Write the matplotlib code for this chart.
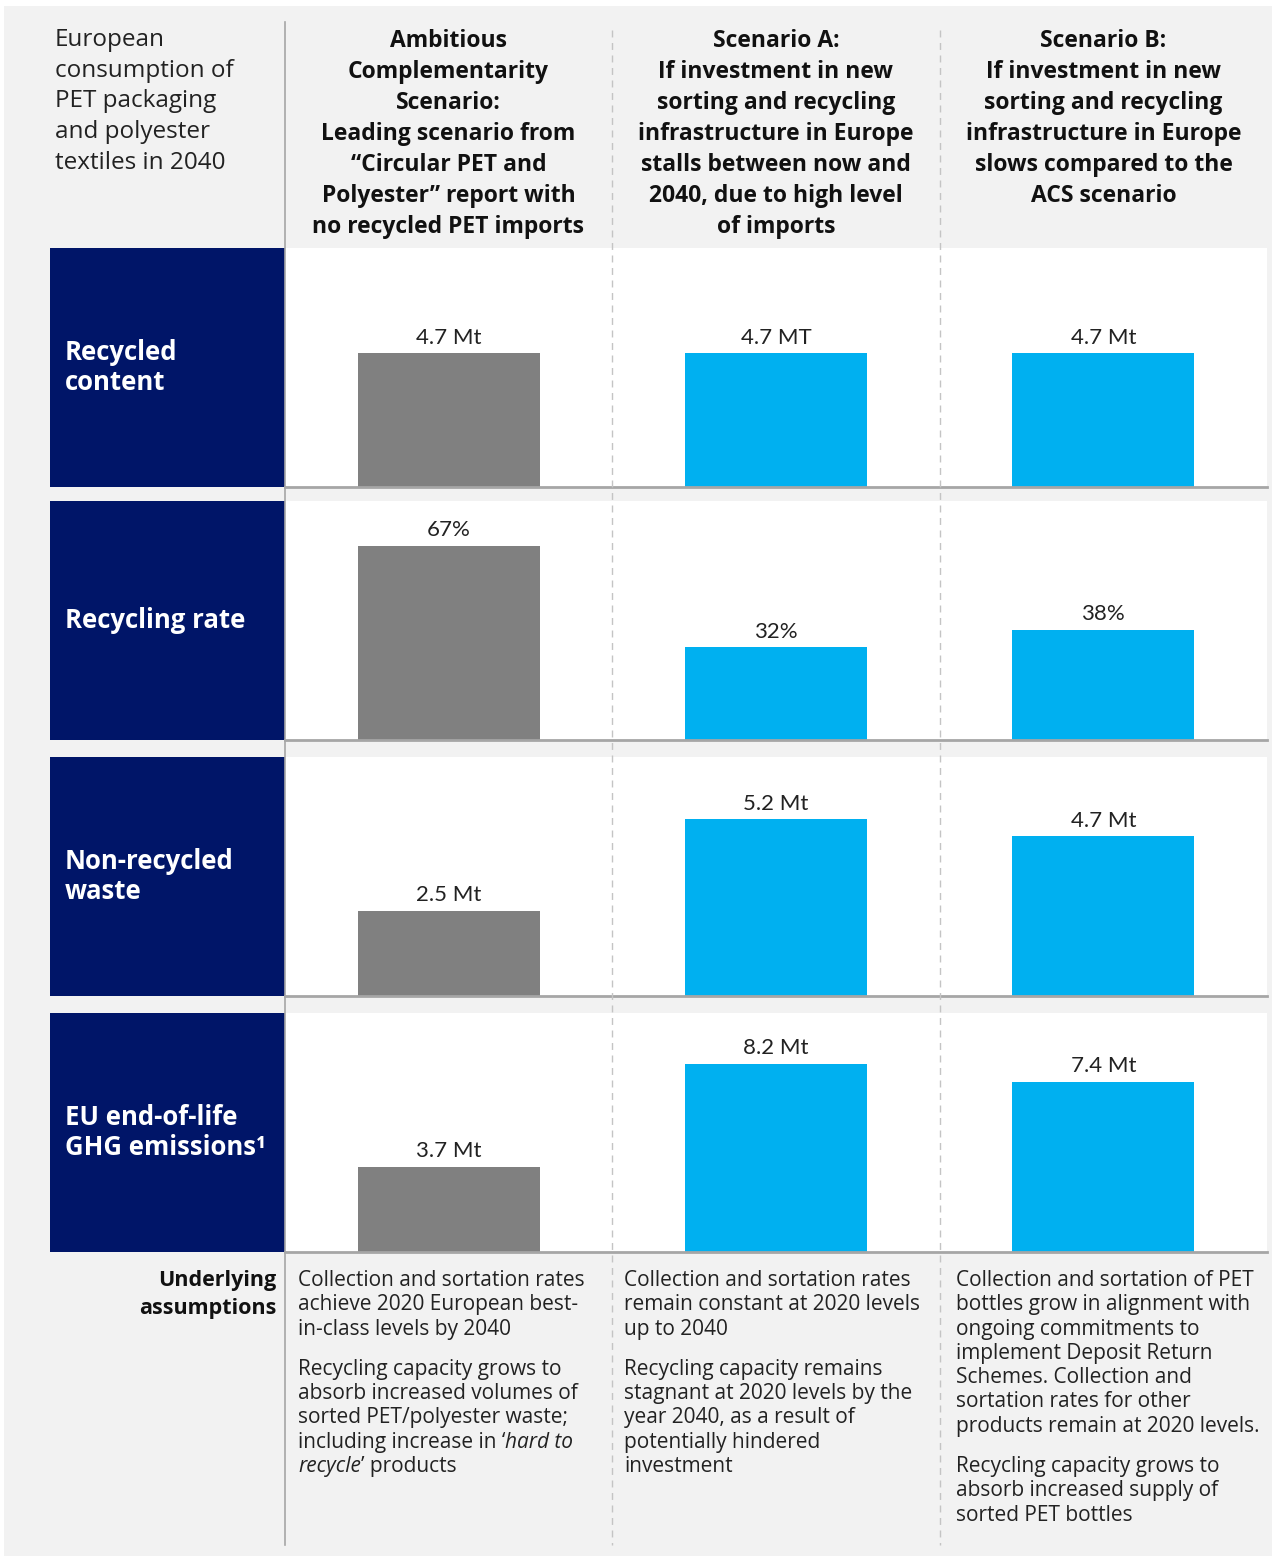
import matplotlib.pyplot as plt
from matplotlib.patches import Rectangle

plt.rcParams['font.family'] = ['Open Sans', 'DejaVu Sans']

# ---- data ----
corner_title = "European\nconsumption of\nPET packaging\nand polyester\ntextiles in 2040"
headers = [
    "Ambitious\nComplementarity\nScenario:\nLeading scenario from\n\u201cCircular PET and\nPolyester\u201d report with\nno recycled PET imports",
    "Scenario A:\nIf investment in new\nsorting and recycling\ninfrastructure in Europe\nstalls between now and\n2040, due to high level\nof imports",
    "Scenario B:\nIf investment in new\nsorting and recycling\ninfrastructure in Europe\nslows compared to the\nACS scenario",
]
row_labels = ["Recycled\ncontent", "Recycling rate", "Non-recycled\nwaste", "EU end-of-life\nGHG emissions\u00b9"]

recycled_content = [4.7, 4.7, 4.7]      # Mt
recycling_rate = [67, 32, 38]           # %
non_recycled_waste = [2.5, 5.2, 4.7]    # Mt
ghg_emissions = [3.7, 8.2, 7.4]         # Mt

row_values = [recycled_content, recycling_rate, non_recycled_waste, ghg_emissions]
value_labels = [
    ["4.7 Mt", "4.7 MT", "4.7 Mt"],
    ["67%", "32%", "38%"],
    ["2.5 Mt", "5.2 Mt", "4.7 Mt"],
    ["3.7 Mt", "8.2 Mt", "7.4 Mt"],
]

# *...* marks italic pieces
assumptions = [
    ["Collection and sortation rates\nachieve 2020 European best-\nin-class levels by 2040",
     "Recycling capacity grows to\nabsorb increased volumes of\nsorted PET/polyester waste;\nincluding increase in \u2018*hard to*\n*recycle*\u2019 products"],
    ["Collection and sortation rates\nremain constant at 2020 levels\nup to 2040",
     "Recycling capacity remains\nstagnant at 2020 levels by the\nyear 2040, as a result of\npotentially hindered\ninvestment"],
    ["Collection and sortation of PET\nbottles grow in alignment with\nongoing commitments to\nimplement Deposit Return\nSchemes. Collection and\nsortation rates for other\nproducts remain at 2020 levels.",
     "Recycling capacity grows to\nabsorb increased supply of\nsorted PET bottles"],
]

# ---- layout (pixels) ----
W, H = 1277, 1559
NAVY = '#001568'
BLUE = '#00B0F0'
GREY_BAR = '#808080'
TXT = '#222222'
row_tops = [248, 501, 757, 1013]
row_h = 239
row_ymax = [8.4, 82.5, 7.03, 10.4]
col_edges = [285, 612, 940, 1267]
col_centers = [(col_edges[i] + col_edges[i + 1]) / 2 for i in range(3)]
bar_colors = [GREY_BAR, BLUE, BLUE]


def box(x0, y0, x1, y1):
    return [x0 / W, 1 - y1 / H, (x1 - x0) / W, (y1 - y0) / H]


fig = plt.figure(figsize=(W / 100, H / 100), dpi=100, facecolor='white')

# background layer
bg = fig.add_axes([0, 0, 1, 1], zorder=0)
bg.set_xlim(0, W)
bg.set_ylim(H, 0)
bg.set_axis_off()
bg.add_patch(Rectangle((4, 6), 1268, 1550, color='#F2F2F2', lw=0))
for top, lab in zip(row_tops, row_labels):
    bg.add_patch(Rectangle((50, top), 235, row_h, color=NAVY, lw=0))
    bg.text(65, top + row_h / 2, lab, color='white', fontsize=18.5, fontweight='bold',
            ha='left', va='center', linespacing=1.18)

# bar rows
for i, (top, vals, labs, ymax) in enumerate(zip(row_tops, row_values, value_labels, row_ymax)):
    ax = fig.add_axes(box(col_edges[0], top, col_edges[-1], top + row_h), zorder=1)
    ax.set_facecolor('white')
    bars = ax.bar(range(3), vals, width=0.556, color=bar_colors)
    ax.bar_label(bars, labels=labs, padding=4, fontsize=16, color=TXT, family='Lato')
    ax.set_xlim(-0.5, 2.5)
    ax.set_ylim(0, ymax)
    for s in ['top', 'left', 'right']:
        ax.spines[s].set_visible(False)
    ax.spines['bottom'].set_color('#A6A6A6')
    ax.spines['bottom'].set_linewidth(2)
    ax.set_xticks([])
    ax.set_yticks([])

# overlay: dividers and text
ov = fig.add_axes([0, 0, 1, 1], zorder=5)
ov.set_xlim(0, W)
ov.set_ylim(H, 0)
ov.set_axis_off()
ov.patch.set_alpha(0)
ov.plot([285, 285], [22, 1545], color='#A6A6A6', lw=1.2)
for x in col_edges[1:3]:
    ov.plot([x, x], [30, 1545], color='#C4C4C4', lw=1, ls=(0, (5, 4)))

ov.text(55, 28, corner_title, fontsize=17.5, color=TXT, ha='left', va='top', linespacing=1.37)
for cx, h in zip(col_centers, headers):
    ov.text(cx, 29, h, fontsize=16.5, fontweight='bold', color='#111111',
            ha='center', va='top', multialignment='center', linespacing=1.39)

ov.text(276, 1270, "Underlying\nassumptions", fontsize=15.5, fontweight='bold', color='#111111',
        ha='right', va='top', multialignment='right', linespacing=1.45)


def rich_line(x, y, line, **kw):
    # split on '*' toggling italic, chain pieces left to right
    prev = None
    for k, piece in enumerate(line.split('*')):
        if not piece:
            continue
        style = 'italic' if k % 2 else 'normal'
        if prev is None:
            prev = ov.text(x, y, piece, style=style, ha='left', va='baseline', **kw)
        else:
            prev = ov.annotate(piece, xy=(1, 0), xycoords=prev, ha='left', va='bottom',
                               style=style, **kw)


line_px = 24.3
text_lefts = [298, 624, 956]
for x, paras in zip(text_lefts, assumptions):
    y = 1286
    for p in paras:
        for line in p.split('\n'):
            rich_line(x, y, line, fontsize=15, color=TXT)
            y += line_px
        y += 16

fig.savefig('out.png', dpi=100, facecolor='white')
